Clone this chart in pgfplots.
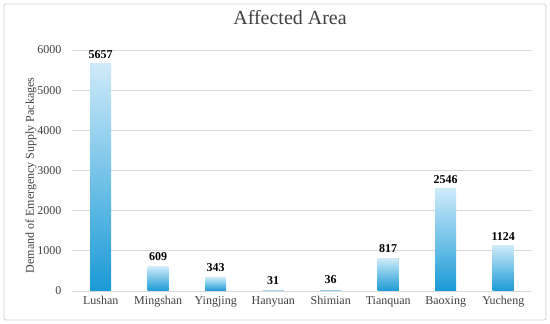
\documentclass[border=0pt]{standalone}
\usepackage{fontspec}
\setmainfont{Liberation Serif}
\usepackage{pgfplots}
\pgfplotsset{compat=1.18}
\definecolor{gridc}{HTML}{D9D9D9}
\definecolor{framec}{HTML}{D0D0D0}
\definecolor{bartop}{HTML}{CDEAF9}
\definecolor{barbot}{HTML}{1A9AD6}
\definecolor{txt}{HTML}{404040}
\begin{document}
\begin{tikzpicture}[x=1pt,y=1pt]
\path[fill=white] (0,0) rectangle (550,324);
\draw[framec, line width=0.8pt, rounded corners=2pt] (4,4) rectangle (546,320);
\begin{axis}[
  at={(72pt,33pt)}, anchor=south west,
  scale only axis, width=460pt, height=241pt,
  ymin=0, ymax=6000, xmin=-0.5, xmax=7.5,
  ytick={0,1000,...,6000},
  xtick={0,...,7},
  xticklabels={Lushan,Mingshan,Yingjing,Hanyuan,Shimian,Tianquan,Baoxing,Yucheng},
  axis line style={draw=none},
  tick style={draw=none}, major tick length=0pt,
  ymajorgrids, grid style={gridc, line width=0.8pt},
  /pgf/number format/assume math mode=true,
  /pgf/number format/1000 sep={},
  yticklabel style={font=\fontsize{12}{12}\selectfont, text=txt, anchor=east, xshift=-7pt},
  xticklabel style={font=\fontsize{12}{12}\selectfont, text=txt, yshift=-2pt},
  ylabel={Demand of Emergency Supply Packages},
  ylabel style={font=\fontsize{12}{12}\selectfont, text=txt, at={(axis description cs:-0.089,0.48)}, anchor=center},
  title={Affected Area},
  title style={font=\fontsize{20}{20}\selectfont, text=txt, at={(axis description cs:0.474,1)}, anchor=center, yshift=26pt},
  clip=false,
  ybar, bar width=21pt, bar shift=0pt,
  nodes near coords,
  nodes near coords style={font=\bfseries\fontsize{12}{12}\selectfont, text=black, yshift=2pt},
  every axis plot/.append style={draw=none, top color=bartop, bottom color=barbot},
]
\addplot coordinates {(0,5657)};
\addplot coordinates {(1,609)};
\addplot coordinates {(2,343)};
\addplot coordinates {(3,31)};
\addplot coordinates {(4,36)};
\addplot coordinates {(5,817)};
\addplot coordinates {(6,2546)};
\addplot coordinates {(7,1124)};
\end{axis}
\end{tikzpicture}
\end{document}
